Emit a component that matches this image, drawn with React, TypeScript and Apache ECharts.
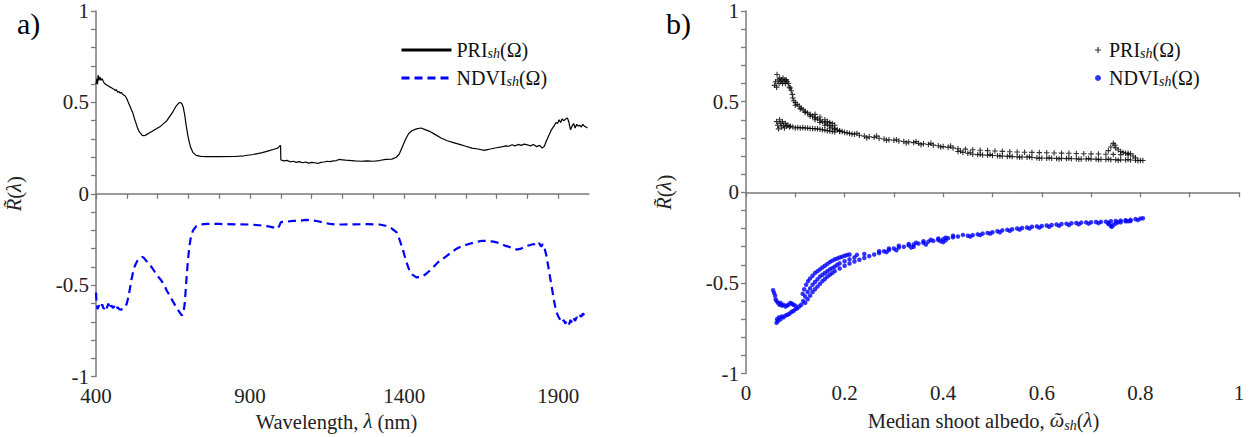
import React, { useEffect, useRef } from "react";
import * as echarts from "echarts";

// Panel a) spectra: [wavelength nm, value]
const priSpectrum: number[][] = [
  [400,0.60],[403,0.63],[405,0.60],[407,0.65],[410,0.62],[413,0.64],[416,0.62],[420,0.63],[425,0.61],[430,0.60],
  [435,0.595],[440,0.59],[445,0.585],[450,0.58],[455,0.575],[460,0.57],[463,0.565],[466,0.57],[470,0.555],[474,0.56],
  [478,0.55],[482,0.555],[486,0.545],[490,0.54],[495,0.535],[500,0.52],[505,0.50],[510,0.48],[515,0.46],[520,0.44],
  [525,0.41],[530,0.385],[535,0.36],[540,0.34],[545,0.33],[550,0.32],[555,0.318],[560,0.32],[565,0.325],[570,0.33],
  [575,0.335],[580,0.34],[585,0.345],[590,0.35],[595,0.355],[600,0.36],[610,0.37],[620,0.385],[630,0.40],[640,0.425],
  [650,0.45],[660,0.48],[668,0.495],[673,0.50],[678,0.495],[683,0.475],[688,0.43],[693,0.37],[698,0.32],[703,0.28],
  [708,0.25],[715,0.225],[725,0.21],[740,0.205],[760,0.203],[800,0.203],[850,0.204],[880,0.208],[910,0.215],[940,0.225],
  [960,0.235],[980,0.245],[990,0.25],[995,0.26],[999,0.265],[1000,0.185],[1010,0.18],[1020,0.183],[1030,0.175],[1040,0.178],
  [1050,0.172],[1060,0.176],[1070,0.17],[1080,0.174],[1090,0.168],[1100,0.172],[1110,0.17],[1120,0.166],[1130,0.172],[1140,0.174],
  [1150,0.178],[1160,0.176],[1170,0.18],[1180,0.182],[1190,0.188],[1200,0.186],[1210,0.184],[1220,0.183],[1240,0.18],[1260,0.178],
  [1280,0.18],[1300,0.178],[1320,0.182],[1340,0.188],[1360,0.19],[1375,0.2],[1385,0.22],[1395,0.26],[1405,0.30],[1415,0.33],
  [1425,0.345],[1440,0.355],[1455,0.36],[1470,0.35],[1485,0.34],[1500,0.325],[1520,0.305],[1540,0.29],[1560,0.28],[1580,0.27],
  [1600,0.26],[1620,0.25],[1640,0.245],[1660,0.238],[1670,0.242],[1680,0.245],[1700,0.252],[1720,0.258],[1730,0.262],[1740,0.26],
  [1750,0.268],[1760,0.262],[1770,0.27],[1780,0.265],[1790,0.272],[1800,0.268],[1810,0.262],[1820,0.27],[1830,0.258],[1840,0.265],
  [1848,0.25],[1855,0.26],[1862,0.29],[1870,0.32],[1878,0.35],[1886,0.37],[1893,0.39],[1898,0.385],[1903,0.405],[1908,0.39],
  [1913,0.41],[1918,0.40],[1925,0.41],[1930,0.415],[1935,0.39],[1940,0.35],[1945,0.37],[1950,0.385],[1955,0.36],[1960,0.38],
  [1965,0.37],[1970,0.375],[1975,0.365],[1980,0.38],[1985,0.37],[1990,0.365],[1995,0.36]
];

const ndviSpectrum: number[][] = [
  [400,-0.54],[402,-0.60],[405,-0.63],[410,-0.61],[415,-0.625],[420,-0.605],[425,-0.63],[430,-0.61],[435,-0.625],[440,-0.60],
  [445,-0.63],[450,-0.61],[455,-0.625],[460,-0.615],[465,-0.635],[470,-0.62],[475,-0.63],[480,-0.635],[485,-0.63],[490,-0.625],
  [495,-0.62],[500,-0.60],[505,-0.565],[510,-0.52],[515,-0.47],[520,-0.43],[525,-0.40],[530,-0.38],[535,-0.365],[540,-0.355],
  [545,-0.35],[550,-0.345],[555,-0.35],[560,-0.36],[570,-0.38],[580,-0.40],[590,-0.425],[600,-0.45],[610,-0.47],[620,-0.495],
  [630,-0.53],[640,-0.56],[650,-0.59],[660,-0.62],[670,-0.645],[678,-0.665],[683,-0.66],[688,-0.60],[693,-0.48],[698,-0.37],
  [703,-0.29],[708,-0.235],[715,-0.20],[725,-0.178],[740,-0.168],[760,-0.165],[800,-0.165],[850,-0.167],[900,-0.168],[930,-0.172],
  [960,-0.178],[980,-0.186],[990,-0.19],[995,-0.175],[1000,-0.155],[1020,-0.152],[1040,-0.148],[1060,-0.148],[1080,-0.143],[1100,-0.145],
  [1120,-0.15],[1140,-0.158],[1160,-0.165],[1180,-0.168],[1200,-0.168],[1240,-0.167],[1280,-0.166],[1320,-0.168],[1340,-0.175],[1360,-0.19],
  [1375,-0.21],[1385,-0.25],[1395,-0.30],[1405,-0.36],[1415,-0.41],[1425,-0.44],[1440,-0.457],[1455,-0.455],[1470,-0.44],[1490,-0.41],
  [1510,-0.375],[1530,-0.35],[1550,-0.325],[1570,-0.30],[1590,-0.285],[1610,-0.275],[1630,-0.265],[1650,-0.258],[1670,-0.258],[1690,-0.262],
  [1710,-0.27],[1730,-0.285],[1750,-0.295],[1765,-0.305],[1780,-0.30],[1795,-0.285],[1810,-0.28],[1820,-0.275],[1830,-0.285],[1838,-0.27],
  [1845,-0.29],[1850,-0.275],[1856,-0.30],[1862,-0.34],[1870,-0.42],[1878,-0.50],[1886,-0.58],[1893,-0.64],[1900,-0.67],[1907,-0.69],
  [1913,-0.705],[1918,-0.69],[1923,-0.71],[1928,-0.695],[1935,-0.715],[1940,-0.69],[1945,-0.705],[1950,-0.68],[1955,-0.695],[1960,-0.675],
  [1965,-0.685],[1970,-0.665],[1975,-0.672],[1980,-0.655],[1985,-0.665],[1990,-0.65],[1995,-0.655]
];

// Panel b) scatter: [median shoot albedo, value]
const priScatter: number[][] = [
  [0.058,0.59],[0.06,0.61],[0.062,0.58],[0.063,0.65],[0.065,0.62],[0.067,0.60],[0.068,0.63],[0.07,0.61],[0.072,0.62],[0.074,0.60],
  [0.075,0.63],[0.077,0.61],[0.079,0.62],[0.08,0.60],[0.082,0.62],[0.084,0.61],[0.086,0.60],[0.088,0.58],
  [0.09,0.575],[0.092,0.56],[0.094,0.54],[0.095,0.52],[0.097,0.505],[0.1,0.495],[0.104,0.485],[0.108,0.475],[0.112,0.465],[0.116,0.455],
  [0.12,0.447],[0.125,0.438],[0.13,0.43],[0.135,0.42],[0.14,0.412],[0.145,0.405],[0.15,0.398],[0.155,0.39],[0.16,0.382],[0.165,0.375],
  [0.17,0.368],[0.175,0.36],[0.18,0.352],[0.185,0.345],[0.19,0.34],[0.195,0.335],[0.2,0.33],
  [0.1,0.48],[0.11,0.46],[0.12,0.44],[0.13,0.42],[0.14,0.40],[0.15,0.385],[0.16,0.37],[0.17,0.355],[0.18,0.345],[0.19,0.335],
  [0.14,0.43],[0.15,0.415],[0.16,0.40],[0.165,0.39],[0.17,0.385],[0.175,0.38],[0.18,0.37],
  [0.062,0.39],[0.064,0.37],[0.066,0.35],[0.068,0.40],[0.07,0.38],[0.072,0.36],[0.074,0.39],[0.076,0.37],[0.078,0.355],[0.08,0.38],
  [0.082,0.365],[0.085,0.37],[0.088,0.36],[0.09,0.365],[0.095,0.36],[0.1,0.355],[0.105,0.358],[0.11,0.355],[0.115,0.357],[0.12,0.355],
  [0.125,0.354],[0.13,0.352],[0.135,0.352],[0.14,0.35],[0.145,0.35],[0.15,0.348],[0.155,0.345],[0.16,0.343],[0.165,0.34],[0.17,0.338],
  [0.175,0.335],[0.18,0.333],
  [0.205,0.328],[0.21,0.325],[0.215,0.322],[0.22,0.32],[0.23,0.315],[0.24,0.31],[0.25,0.306],[0.26,0.303],[0.27,0.298],[0.28,0.294],
  [0.29,0.29],[0.3,0.287],[0.31,0.283],[0.32,0.28],[0.33,0.278],[0.34,0.274],[0.35,0.27],[0.36,0.268],[0.37,0.264],[0.38,0.26],
  [0.39,0.257],[0.4,0.252],[0.41,0.248],[0.42,0.245],
  [0.225,0.325],[0.245,0.30],[0.265,0.31],[0.285,0.287],[0.305,0.29],[0.325,0.272],[0.345,0.28],[0.355,0.262],[0.375,0.27],[0.395,0.25],
  [0.415,0.255],
  [0.43,0.24],[0.445,0.238],[0.46,0.235],[0.475,0.232],[0.49,0.23],[0.505,0.228],[0.52,0.226],[0.535,0.224],[0.55,0.222],[0.565,0.221],
  [0.58,0.22],[0.595,0.219],[0.61,0.218],[0.625,0.217],[0.64,0.216],[0.655,0.215],[0.67,0.214],[0.685,0.213],[0.7,0.212],[0.715,0.211],
  [0.73,0.21],[0.745,0.209],[0.76,0.208],[0.775,0.207],
  [0.43,0.225],[0.44,0.22],[0.45,0.215],[0.46,0.21],[0.47,0.208],[0.48,0.206],[0.49,0.205],[0.5,0.203],[0.51,0.202],[0.52,0.20],
  [0.53,0.198],[0.54,0.197],[0.55,0.196],[0.56,0.195],[0.57,0.194],[0.58,0.192],[0.59,0.19],[0.6,0.189],[0.61,0.188],[0.62,0.188],
  [0.63,0.187],[0.64,0.187],[0.65,0.186],[0.66,0.185],[0.67,0.185],[0.68,0.184],[0.69,0.184],[0.7,0.183],[0.71,0.183],[0.72,0.182],
  [0.73,0.181],[0.74,0.18],[0.75,0.18],[0.76,0.179],[0.77,0.178],[0.78,0.178],[0.79,0.177],[0.8,0.176],[0.805,0.175],
  [0.435,0.228],[0.455,0.218],[0.475,0.21],[0.495,0.208],[0.515,0.20],[0.535,0.20],[0.555,0.193],[0.575,0.196],[0.595,0.188],[0.615,0.19],
  [0.635,0.184],[0.655,0.188],[0.675,0.182],[0.695,0.186],[0.715,0.18],[0.735,0.184],[0.755,0.177],[0.775,0.181],[0.795,0.174],
  [0.735,0.23],[0.74,0.25],[0.745,0.27],[0.748,0.26],[0.75,0.245],[0.755,0.235],[0.76,0.225],[0.765,0.22],[0.77,0.215],[0.775,0.215],
  [0.78,0.212],[0.785,0.20],[0.79,0.19]
];

const ndviScatter: number[][] = [
  [0.055,-0.54],[0.057,-0.555],[0.059,-0.57],[0.06,-0.59],[0.062,-0.60],[0.065,-0.61],[0.068,-0.62],[0.07,-0.61],[0.073,-0.625],[0.076,-0.62],
  [0.08,-0.63],[0.083,-0.625],[0.086,-0.62],[0.09,-0.61],[0.093,-0.615],[0.096,-0.62],[0.1,-0.625],
  [0.062,-0.72],[0.063,-0.70],[0.065,-0.71],[0.067,-0.69],[0.07,-0.70],[0.073,-0.685],[0.076,-0.69],[0.08,-0.68],[0.084,-0.675],
  [0.088,-0.67],[0.092,-0.66],[0.096,-0.655],[0.1,-0.645],[0.104,-0.64],[0.108,-0.63],[0.112,-0.62],
  [0.115,-0.56],[0.118,-0.535],[0.122,-0.51],[0.126,-0.49],[0.13,-0.475],[0.135,-0.46],[0.14,-0.445],[0.145,-0.435],[0.15,-0.425],[0.155,-0.415],
  [0.16,-0.405],[0.165,-0.395],[0.17,-0.385],[0.175,-0.377],[0.18,-0.37],[0.185,-0.365],[0.19,-0.36],[0.195,-0.355],[0.2,-0.35],[0.205,-0.346],
  [0.21,-0.343],
  [0.116,-0.60],[0.12,-0.575],[0.125,-0.55],[0.13,-0.53],[0.135,-0.51],[0.14,-0.495],[0.145,-0.48],[0.15,-0.465],[0.155,-0.455],[0.16,-0.445],
  [0.165,-0.435],[0.17,-0.425],[0.175,-0.418],[0.18,-0.41],[0.185,-0.40],[0.19,-0.392],[0.2,-0.38],[0.21,-0.37],[0.22,-0.36],[0.225,-0.345],
  [0.24,-0.34],
  [0.12,-0.61],[0.125,-0.59],[0.13,-0.57],[0.135,-0.55],[0.14,-0.535],[0.145,-0.52],[0.15,-0.505],[0.155,-0.49],[0.16,-0.478],[0.165,-0.465],
  [0.17,-0.455],[0.175,-0.445],[0.18,-0.435],[0.19,-0.42],[0.2,-0.405],[0.21,-0.393],[0.22,-0.382],[0.23,-0.372],[0.24,-0.362],[0.25,-0.352],
  [0.26,-0.343],[0.27,-0.335],
  [0.28,-0.325],[0.29,-0.318],[0.3,-0.31],[0.31,-0.305],[0.32,-0.30],[0.33,-0.293],[0.34,-0.288],[0.35,-0.283],[0.36,-0.278],[0.37,-0.272],
  [0.38,-0.268],[0.39,-0.263],[0.4,-0.258],[0.41,-0.253],[0.42,-0.248],[0.43,-0.244],
  [0.27,-0.325],[0.29,-0.31],[0.31,-0.295],[0.33,-0.285],[0.345,-0.278],[0.36,-0.27],[0.375,-0.262],[0.39,-0.255],[0.405,-0.25],[0.42,-0.24],
  [0.44,-0.235],
  [0.285,-0.33],[0.305,-0.32],[0.335,-0.305],[0.34,-0.30],[0.365,-0.288],[0.395,-0.27],[0.4,-0.275],[0.405,-0.265],
  [0.45,-0.24],[0.46,-0.236],[0.47,-0.232],[0.48,-0.228],[0.49,-0.224],[0.5,-0.22],[0.51,-0.215],[0.52,-0.21],[0.53,-0.207],[0.54,-0.204],
  [0.55,-0.20],[0.56,-0.197],[0.57,-0.194],[0.58,-0.19],[0.59,-0.188],[0.6,-0.186],[0.61,-0.183],[0.62,-0.18],[0.63,-0.178],[0.64,-0.175],
  [0.65,-0.173],[0.66,-0.171],[0.67,-0.169],[0.68,-0.167],[0.69,-0.166],[0.7,-0.165],[0.71,-0.164],[0.72,-0.163],[0.73,-0.162],[0.74,-0.16],
  [0.75,-0.158],[0.76,-0.156],[0.77,-0.154],[0.78,-0.152],[0.79,-0.148],[0.8,-0.145],[0.805,-0.143],
  [0.455,-0.244],[0.475,-0.236],[0.495,-0.228],[0.515,-0.22],[0.535,-0.212],[0.555,-0.206],[0.575,-0.20],[0.595,-0.195],[0.615,-0.19],[0.635,-0.185],
  [0.655,-0.18],[0.675,-0.176],[0.695,-0.173],[0.715,-0.17],[0.735,-0.168],[0.755,-0.165],[0.775,-0.16],[0.795,-0.153],
  [0.735,-0.175],[0.74,-0.185],[0.742,-0.19],[0.745,-0.18],[0.75,-0.172],[0.76,-0.165],[0.77,-0.16],[0.78,-0.158]
];

const wavelengthMajorTicks = [400, 900, 1400, 1900];

const FONT = "'Liberation Serif', serif";
const AXIS_GREY = "#7a7a7a";
const PLUS = "path://M4,0h2v4h4v2h-4v4h-2v-4h-4v-2h4z";

const legendRich = {
  n: { fontFamily: FONT, fontSize: 20, color: "#111", lineHeight: 20, verticalAlign: "top" },
  s: { fontFamily: FONT, fontSize: 14, fontStyle: "italic", color: "#111", lineHeight: 12, verticalAlign: "bottom", padding: [10, 0, 0, 0] },
};

const nameRich = {
  n: { fontFamily: FONT, fontSize: 20.5, color: "#222", lineHeight: 22, verticalAlign: "top" },
  i: { fontFamily: FONT, fontSize: 20.5, fontStyle: "italic", color: "#222", lineHeight: 22, verticalAlign: "top" },
  s: { fontFamily: FONT, fontSize: 14, fontStyle: "italic", color: "#222", lineHeight: 12, verticalAlign: "bottom", padding: [10, 0, 0, 0] },
};

const tickRich = {
  t: { fontFamily: FONT, fontSize: 21, color: "#222", lineHeight: 16 },
};

function legendFormatter(name: string) {
  const base = name.startsWith("PRI") ? "PRI" : "NDVI";
  return `{n|${base}}{s|sh}{n|(Ω)}`;
}

function yAxisCommon(gridIndex: number) {
  return {
    type: "value",
    gridIndex,
    min: -1,
    max: 1,
    interval: 0.5,
    name: "{i|R\u0303}{n|(}{i|λ}{n|)}",
    nameLocation: "middle",
    nameGap: 70,
    nameTextStyle: { rich: nameRich },
    axisLine: { show: true, lineStyle: { color: AXIS_GREY, width: 1.5 } },
    axisTick: { show: true, length: 5, lineStyle: { color: AXIS_GREY, width: 1.3 } },
    minorTick: { show: true, splitNumber: 5, length: 5, lineStyle: { color: AXIS_GREY, width: 1.3 } },
    splitLine: { show: false },
    axisLabel: {
      margin: 7,
      rich: tickRich,
      formatter: (v: number) => `{t|${v}}`,
    },
  };
}

export default function App() {
  const ref = useRef<HTMLDivElement>(null);
  useEffect(() => {
    if (!ref.current) return;
    const chart = echarts.init(ref.current, undefined, { renderer: "svg" });
    const option: any = {
      animation: false,
      backgroundColor: "#fff",
      textStyle: { fontFamily: FONT },
      grid: [
        { left: 96, top: 11, width: 493, height: 371 },
        { left: 746, top: 11, width: 493, height: 371 },
      ],
      xAxis: [
        {
          type: "value",
          gridIndex: 0,
          min: 400,
          max: 2000,
          interval: 100,
          name: "{n|Wavelength, }{i|λ}{n| (nm)}",
          nameLocation: "middle",
          nameGap: 29,
          nameTextStyle: { rich: nameRich, padding: [0, 12, 0, 0] },
          axisLine: { show: true, lineStyle: { color: AXIS_GREY, width: 1.5 } },
          axisTick: { show: true, length: 5, lineStyle: { color: AXIS_GREY, width: 1.3 } },
          splitLine: { show: false },
          axisLabel: {
            margin: 11,
            showMaxLabel: false,
            rich: tickRich,
            formatter: (v: number) => (wavelengthMajorTicks.indexOf(v) >= 0 ? `{t|${v}}` : ""),
          },
        },
        {
          type: "value",
          gridIndex: 1,
          min: 0,
          max: 1,
          interval: 0.2,
          name: "{n|Median shoot albedo, }{i|ῶ}{s|sh}{n|(}{i|λ}{n|)}",
          nameLocation: "middle",
          nameGap: 29,
          nameTextStyle: { rich: nameRich, padding: [0, 18, 0, 0] },
          axisLine: { show: true, lineStyle: { color: AXIS_GREY, width: 1.5 } },
          axisTick: { show: true, length: 5, lineStyle: { color: AXIS_GREY, width: 1.3 } },
          minorTick: { show: true, splitNumber: 2, length: 5, lineStyle: { color: AXIS_GREY, width: 1.3 } },
          splitLine: { show: false },
          axisLabel: {
            margin: 11,
            rich: tickRich,
            formatter: (v: number) => `{t|${v}}`,
          },
        },
      ],
      yAxis: [yAxisCommon(0), yAxisCommon(1)],
      legend: [
        {
          data: ["PRI_a", "NDVI_a"],
          orient: "vertical",
          left: 395,
          top: 31,
          itemWidth: 50,
          itemHeight: 14,
          itemGap: 4,
          selectedMode: false,
          lineStyle: { width: 3 },
          itemStyle: { opacity: 0 },
          formatter: legendFormatter,
          textStyle: { rich: legendRich },
        },
        {
          data: [
            { name: "PRI_b", icon: PLUS },
            { name: "NDVI_b", icon: "circle" },
          ],
          orient: "vertical",
          left: 1090,
          top: 31,
          itemWidth: 6,
          itemHeight: 6,
          itemGap: 4,
          selectedMode: false,
          formatter: legendFormatter,
          textStyle: { rich: legendRich, padding: [0, 0, 0, 3] },
        },
      ],
      graphic: [
        {
          type: "text", left: 17, top: 8,
          style: { text: "{p|a)}", rich: { p: { fontFamily: FONT, fontSize: 30, color: "#111" } } },
        },
        {
          type: "text", left: 666, top: 8,
          style: { text: "{p|b)}", rich: { p: { fontFamily: FONT, fontSize: 30, color: "#111" } } },
        },
      ],
      series: [
        {
          name: "PRI_a",
          type: "line",
          xAxisIndex: 0,
          yAxisIndex: 0,
          data: priSpectrum,
          symbol: "none",
          lineStyle: { color: "#000", width: 1.2 },
          itemStyle: { color: "#000" },
        },
        {
          name: "NDVI_a",
          type: "line",
          xAxisIndex: 0,
          yAxisIndex: 0,
          data: ndviSpectrum,
          symbol: "none",
          lineStyle: { color: "#0000ff", width: 2.2, type: [8, 5] },
          itemStyle: { color: "#0000ff" },
        },
        {
          name: "PRI_b",
          type: "scatter",
          xAxisIndex: 1,
          yAxisIndex: 1,
          data: priScatter,
          symbol: PLUS,
          symbolSize: 5.5,
          itemStyle: { color: "#000" },
        },
        {
          name: "NDVI_b",
          type: "scatter",
          xAxisIndex: 1,
          yAxisIndex: 1,
          data: ndviScatter,
          symbol: "circle",
          symbolSize: 4.5,
          itemStyle: { color: "#0000ff" },
        },
      ],
    };
    chart.setOption(option);
    return () => chart.dispose();
  }, []);
  return (
    <div
      ref={ref}
      style={{ position: "fixed", left: 0, top: 0, width: 1258, height: 437, background: "#fff" }}
    />
  );
}
